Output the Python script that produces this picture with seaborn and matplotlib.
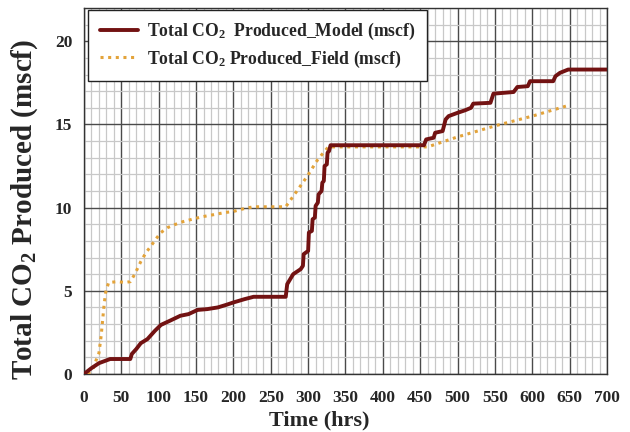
import matplotlib
matplotlib.use("Agg")
import matplotlib.pyplot as plt
from matplotlib.ticker import MultipleLocator
import seaborn as sns
import pandas as pd

# Cumulative CO2 produced, simulation run (hrs, mscf)
model_time = [0, 10, 20, 35, 62, 64, 70, 76, 85, 95, 103, 115, 129, 140, 152, 165,
              179, 190, 200, 215, 227, 270, 272, 280, 290, 293, 294, 300, 301, 305,
              306, 309, 310, 313, 314, 318, 319, 321, 322, 325, 326, 328, 330, 455,
              458, 468, 470, 480, 484, 488, 500, 510, 518, 521, 544, 548, 575, 580,
              594, 597, 628, 631, 637, 648, 700]
model_co2 = [0, 0.35, 0.65, 0.9, 0.9, 1.2, 1.5, 1.85, 2.1, 2.6, 2.95, 3.2, 3.5, 3.6,
             3.85, 3.9, 4.0, 4.15, 4.3, 4.5, 4.64, 4.64, 5.4, 6.0, 6.3, 6.5, 7.2, 7.4,
             8.5, 8.6, 9.3, 9.4, 10.1, 10.3, 10.8, 11.0, 11.5, 11.6, 12.5, 12.6, 13.3,
             13.4, 13.75, 13.75, 14.1, 14.2, 14.5, 14.6, 15.3, 15.5, 15.7, 15.85, 16.0,
             16.25, 16.3, 16.85, 16.95, 17.25, 17.3, 17.6, 17.6, 17.9, 18.1, 18.3, 18.3]

# Cumulative CO2 produced, field measurements (hrs, mscf)
field_time = [5, 12, 16, 20, 23, 25, 27, 29, 33, 45, 55, 62, 68, 76, 83, 89, 96, 103,
              112, 121, 132, 143, 158, 174, 188, 200, 215, 227, 270, 285, 299, 313,
              327, 460, 500, 553, 600, 645]
field_co2 = [0, 0.3, 0.8, 1.25, 2.3, 3.25, 4.2, 4.9, 5.5, 5.55, 5.5, 5.55, 6.0, 6.75,
             7.3, 7.65, 8.1, 8.5, 8.8, 8.97, 9.15, 9.28, 9.45, 9.58, 9.7, 9.77, 9.95,
             10.05, 10.05, 11.0, 11.9, 12.9, 13.65, 13.65, 14.25, 14.95, 15.5, 16.1]

x_ticks = [0, 50, 100, 150, 200, 250, 300, 350, 400, 450, 500, 550, 600, 650, 700]
y_ticks = [0, 5, 10, 15, 20]

model_label = r"Total CO$_2$  Produced_Model (mscf)"
field_label = r"Total CO$_2$ Produced_Field (mscf)"

sns.set_style("white")
plt.rcParams["font.family"] = ["Liberation Serif", "DejaVu Serif"]
plt.rcParams["font.weight"] = "bold"
plt.rcParams["mathtext.default"] = "regular"

model_df = pd.DataFrame({"time": model_time, "co2": model_co2})
field_df = pd.DataFrame({"time": field_time, "co2": field_co2})

fig = plt.figure(figsize=(6.3, 4.32), dpi=100)
ax = fig.add_axes([0.1333, 0.1343, 0.8302, 0.8472])

sns.lineplot(data=model_df, x="time", y="co2", ax=ax, color="#721212",
             linewidth=2.8, label=model_label, sort=False, zorder=4)
sns.lineplot(data=field_df, x="time", y="co2", ax=ax, color="#e3a33a",
             linewidth=2.2, linestyle=(0, (1, 1.5)), label=field_label,
             sort=False, zorder=3)

ax.set_xlim(0, 700)
ax.set_ylim(0, 22)
ax.set_xticks(x_ticks)
ax.set_yticks(y_ticks)
ax.xaxis.set_minor_locator(MultipleLocator(10))
ax.yaxis.set_minor_locator(MultipleLocator(1))
ax.grid(which="minor", color="#c8c8c8", linewidth=0.9, zorder=0)
ax.grid(which="major", color="#4a4a4a", linewidth=1.0, zorder=1)
ax.set_axisbelow(True)

for side in ["left", "right", "top", "bottom"]:
    ax.spines[side].set_color("#333333")
    ax.spines[side].set_linewidth(1.0)

ax.tick_params(axis="both", which="major", direction="out", length=3.5,
               width=1, color="#333333", labelsize=12.5)
ax.tick_params(axis="x", which="major", pad=8)
ax.tick_params(axis="y", which="major", pad=5)
ax.tick_params(axis="both", which="minor", length=0)
for lab in ax.get_xticklabels() + ax.get_yticklabels():
    lab.set_fontweight("bold")

ax.set_xlabel("Time (hrs)", fontsize=16, fontweight="bold")
ax.set_ylabel(r"Total CO$_2$ Produced (mscf)", fontsize=21, fontweight="bold")
ax.xaxis.set_label_coords(0.45, -0.1)
ax.yaxis.set_label_coords(-0.085, 0.45)

leg = ax.legend(loc="upper left", bbox_to_anchor=(0.008, 0.995),
                borderaxespad=0, frameon=True, fancybox=False, framealpha=1,
                edgecolor="#222222", handlelength=2.2, handletextpad=0.5,
                borderpad=0.65, labelspacing=0.35,
                prop={"weight": "bold", "size": 12.7})
leg.get_frame().set_linewidth(1.0)

fig.savefig("out.png", dpi=100)
